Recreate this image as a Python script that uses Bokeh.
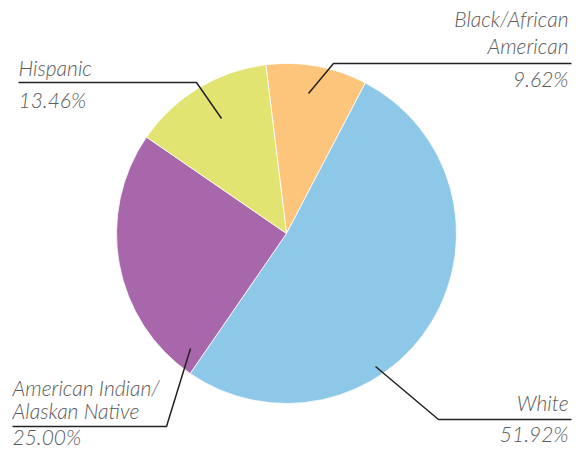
import math
from bokeh.plotting import figure
from bokeh.models import Range1d
from bokeh.core.properties import value
from bokeh.embed import file_html
from bokeh.resources import INLINE

# data (clockwise order starting just left of 12 o'clock)
categories = ["Black/African American", "White", "American Indian/Alaskan Native", "Hispanic"]
percents = [9.62, 51.92, 25.00, 13.46]
colors = ["#FDC57B", "#8DC8E8", "#A867AA", "#E1E470"]
pct_labels = ["9.62%", "51.92%", "25.00%", "13.46%"]

W, H = 576, 449
p = figure(width=W, height=H, output_backend="svg", toolbar_location=None,
           x_range=Range1d(0, W), y_range=Range1d(0, H),
           min_border=0, outline_line_color=None)
p.axis.visible = False
p.grid.visible = False
p.background_fill_color = "white"

def Y(ypix):
    return H - ypix

cx, cy, r = 286, Y(233), 170
start = 97.0  # math degrees
starts, ends = [], []
a = start
for v in percents:
    starts.append(math.radians(a))
    a -= v / 100 * 360
    ends.append(math.radians(a))

p.wedge(x=[cx] * 4, y=[cy] * 4, radius=r, start_angle=starts, end_angle=ends,
        direction="clock", fill_color=colors, line_color="white", line_width=0.8)

# leader lines (layout)
leaders = [
    ([308, 333, 571], [93, 63, 63]),
    ([18, 196, 221], [82, 82, 118]),
    ([12, 166, 190], [426, 426, 348]),
    ([375, 438, 571], [366, 419, 419]),
]
for xs, ys in leaders:
    p.line(xs, [Y(v) for v in ys], line_color="#222222", line_width=1.5)

font = value("Lato Light")
tcol = "#5a5a5a"
fs = "21px"
def txt(x, y, s, align):
    p.text(x=[x], y=[Y(y)], text=[s], text_align=align, text_baseline="middle",
           text_font=font, text_font_style="italic", text_font_size=fs, text_color=tcol)

txt(568, 18, "Black/African", "right")
txt(568, 45, "American", "right")
txt(568, 78, pct_labels[0], "right")
txt(18, 67, "Hispanic", "left")
txt(18, 99, pct_labels[3], "left")
txt(12, 387, "American Indian/", "left")
txt(12, 410, "Alaskan Native", "left")
txt(12, 436, pct_labels[2], "left")
txt(568, 402, "White", "right")
txt(568, 433, pct_labels[1], "right")

open("out.html", "w").write(file_html(p, INLINE))
